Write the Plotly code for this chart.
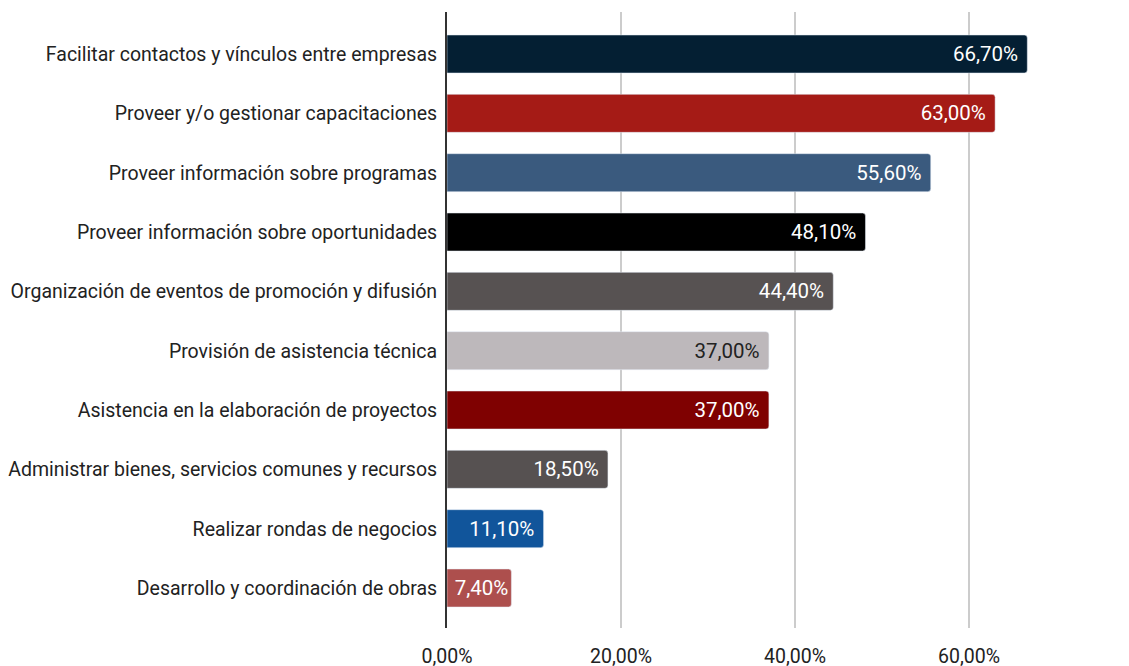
import plotly.graph_objects as go

categorias = [
    'Facilitar contactos y vínculos entre empresas',
    'Proveer y/o gestionar capacitaciones',
    'Proveer información sobre programas',
    'Proveer información sobre oportunidades',
    'Organización de eventos de promoción y difusión',
    'Provisión de asistencia técnica',
    'Asistencia en la elaboración de proyectos',
    'Administrar bienes, servicios comunes y recursos',
    'Realizar rondas de negocios',
    'Desarrollo y coordinación de obras',
]
valores = [0.667, 0.63, 0.556, 0.481, 0.444, 0.37, 0.37, 0.185, 0.111, 0.074]
etiquetas = ['66,70%', '63,00%', '55,60%', '48,10%', '44,40%',
             '37,00%', '37,00%', '18,50%', '11,10%', '7,40%']
ticks_x = [0, 0.2, 0.4, 0.6]
ticks_x_texto = ['0,00%', '20,00%', '40,00%', '60,00%']

colores = ['#041f33', '#a51b16', '#3a5a7e', '#000000', '#575252',
           '#bdb8bb', '#7f0101', '#565151', '#11559b', '#ad4f4d']
colores_texto = ['#ffffff'] * 5 + ['#222222'] + ['#ffffff'] * 4

# un poco de aire a la derecha del texto, salvo en la barra más corta
plantillas = ['%{text}\u2009\u200a'] * 9 + ['%{text}']

fig = go.Figure()

fig.add_trace(go.Bar(
    y=categorias,
    x=valores,
    orientation='h',
    marker=dict(color=colores, cornerradius=3),
    text=etiquetas,
    texttemplate=plantillas,
    textposition='inside',
    insidetextanchor='end',
    textfont=dict(family='Roboto', size=20.5, color=colores_texto),
    cliponaxis=False,
))

# la página tiene un margen de 8px, por eso l y t están corridos
fig.update_layout(
    width=1129,
    height=666,
    margin=dict(l=439, r=10, t=4, b=46),
    plot_bgcolor='white',
    paper_bgcolor='white',
    showlegend=False,
    bargap=0.36,
    font=dict(family='Roboto', size=19.5, color='#222222'),
    uniformtext=dict(mode='show', minsize=20.5),
)

fig.update_xaxes(
    range=[0, 0.7816],
    tickvals=ticks_x,
    ticktext=ticks_x_texto,
    showgrid=True,
    gridcolor='#cccccc',
    gridwidth=1.5,
    zeroline=False,
    ticklabelstandoff=14,
    tickfont=dict(size=19.5),
    automargin=False,
)

fig.update_yaxes(
    range=[9.674, -0.708],
    showline=True,
    linecolor='#333333',
    linewidth=2,
    ticklabelstandoff=4,
    tickfont=dict(size=19.5),
    automargin=False,
)

fig.write_html("out.html")
